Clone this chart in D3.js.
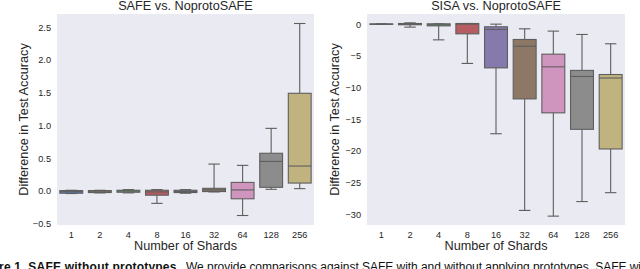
<!DOCTYPE html>
<html><head><meta charset="utf-8">
<script src="https://cdn.jsdelivr.net/npm/d3@7/dist/d3.min.js"></script>
<style>
html,body{margin:0;padding:0;background:#fff;}
svg{display:block;}
text{font-family:"Liberation Sans",Arial,sans-serif;fill:#262626;}
</style></head>
<body>
<svg id="chart" width="640" height="269"></svg>
<script>
// ---- data ----
const categories = ["1","2","4","8","16","32","64","128","256"];

// SAFE vs. NoprotoSAFE
const safeLow  = [-0.04, -0.03, -0.03, -0.19, -0.035, -0.015, -0.375, 0.025, 0.035];
const safeQ1   = [-0.035, -0.025, -0.02, -0.065, -0.025, -0.01, -0.12, 0.055, 0.12];
const safeMed  = [-0.005, -0.005, 0.0, -0.015, -0.01, 0.015, 0.015, 0.45, 0.38];
const safeQ3   = [0.005, 0.005, 0.01, 0.01, 0.01, 0.04, 0.13, 0.575, 1.49];
const safeHigh = [0.01, 0.01, 0.02, 0.02, 0.02, 0.41, 0.39, 0.955, 2.555];

// SISA vs. NoprotoSAFE
const sisaLow  = [-0.05, -0.47, -2.48, -6.2, -17.3, -29.4, -30.3, -28.0, -26.6];
const sisaQ1   = [-0.03, -0.1, -0.27, -1.53, -6.9, -11.8, -14.0, -16.6, -19.7];
const sisaMed  = [0, 0, -0.1, 0, -0.84, -3.48, -6.74, -8.26, -8.5];
const sisaQ3   = [0.03, 0.1, 0.05, 0.1, -0.42, -2.42, -4.74, -7.3, -7.95];
const sisaHigh = [0.05, 0.2, 0.05, 0.1, 0, -0.74, -1.1, -1.63, -3.1];

const safeTicks = [-0.5, 0.0, 0.5, 1.0, 1.5, 2.0, 2.5];
const sisaTicks = [0, -5, -10, -15, -20, -25, -30];

const palette = ["#4C72B0","#DD8452","#55A868","#C44E52","#8172B3","#937860","#DA8BC3","#8C8C8C","#CCB974"];
const colors = palette.map(c => { const h = d3.hsl(c); h.s *= 0.75; return h.formatHex(); });

const svg = d3.select("#chart");
const lineColor = "#5e5e5e";
const minus = s => s.replace(/-/g, "\u2212");
const labelSize = 12.7;

function panel(opts) {
  const {left, right, top, bottom, domain, ticks, fmt, title, lo, q1, med, q3, hi, ylabelX} = opts;
  const g = svg.append("g");
  const x = d3.scaleBand().domain(categories).range([left, right]).padding(0);
  const y = d3.scaleLinear().domain(domain).range([bottom, top]);
  g.append("rect").attr("x", left).attr("y", top).attr("width", right-left).attr("height", bottom-top).attr("fill", "#EAEAF2");

  const yAxis = d3.axisLeft(y).tickValues(ticks).tickFormat(d => minus(fmt(d))).tickSize(0).tickPadding(6);
  const ya = g.append("g").attr("transform", `translate(${left},0)`).call(yAxis);
  ya.select(".domain").remove();
  ya.selectAll("text").attr("font-size", 9.2).attr("fill", "#262626").attr("font-family", "Liberation Sans, Arial, sans-serif");

  const xAxis = d3.axisBottom(x).tickSize(0).tickPadding(6);
  const xa = g.append("g").attr("transform", `translate(0,${bottom})`).call(xAxis);
  xa.select(".domain").remove();
  xa.selectAll("text").attr("font-size", 9.2).attr("fill", "#262626").attr("font-family", "Liberation Sans, Arial, sans-serif");

  const bw = x.bandwidth() * 0.8;
  const cw = bw * 0.5;
  categories.forEach((c, i) => {
    const cx = x(c) + x.bandwidth()/2;
    const bg = g.append("g").attr("stroke", lineColor).attr("stroke-width", 1.1).attr("fill", "none");
    bg.append("line").attr("x1", cx).attr("x2", cx).attr("y1", y(hi[i])).attr("y2", y(q3[i]));
    bg.append("line").attr("x1", cx).attr("x2", cx).attr("y1", y(q1[i])).attr("y2", y(lo[i]));
    bg.append("line").attr("x1", cx-cw/2).attr("x2", cx+cw/2).attr("y1", y(hi[i])).attr("y2", y(hi[i]));
    bg.append("line").attr("x1", cx-cw/2).attr("x2", cx+cw/2).attr("y1", y(lo[i])).attr("y2", y(lo[i]));
    bg.append("rect").attr("x", cx-bw/2).attr("width", bw)
      .attr("y", y(q3[i])).attr("height", Math.max(0.01, y(q1[i]) - y(q3[i])))
      .attr("fill", colors[i]);
    bg.append("line").attr("x1", cx-bw/2).attr("x2", cx+bw/2).attr("y1", y(med[i])).attr("y2", y(med[i]));
  });

  g.append("text").attr("x", (left+right)/2).attr("y", 10).attr("text-anchor", "middle").attr("font-size", labelSize).text(title);
  g.append("text").attr("x", (left+right)/2).attr("y", 250).attr("text-anchor", "middle").attr("font-size", labelSize).text("Number of Shards");
  g.append("text").attr("transform", `translate(${ylabelX},${(top+bottom)/2}) rotate(-90)`).attr("text-anchor", "middle").attr("font-size", labelSize).text("Difference in Test Accuracy");
}

panel({left: 57, right: 314, top: 14, bottom: 225, domain: [-0.52, 2.70], ticks: safeTicks, fmt: d3.format(".1f"),
  title: "SAFE vs. NoprotoSAFE", lo: safeLow, q1: safeQ1, med: safeMed, q3: safeQ3, hi: safeHigh, ylabelX: 27.5});
panel({left: 367, right: 625, top: 14, bottom: 225, domain: [-31.7, 1.6], ticks: sisaTicks, fmt: d3.format("d"),
  title: "SISA vs. NoprotoSAFE", lo: sisaLow, q1: sisaQ1, med: sisaMed, q3: sisaQ3, hi: sisaHigh, ylabelX: 339});

// cropped caption from the source page (cut at the picture's bottom edge, as in the reference)
svg.append("text").attr("x", -1).attr("y", 270.5)
  .attr("font-family", "Liberation Serif, Times New Roman, serif").attr("font-size", 12).attr("font-weight", "bold").style("fill", "#111")
  .attr("textLength", 181).attr("lengthAdjust", "spacing")
  .text("re 1. SAFE without prototypes.");
svg.append("text").attr("x", 186).attr("y", 270.5)
  .attr("font-family", "Liberation Serif, Times New Roman, serif").attr("font-size", 12).style("fill", "#111")
  .attr("textLength", 455).attr("lengthAdjust", "spacing")
  .text("We provide comparisons against SAFE with and without applying prototypes. SAFE wi");
</script>
</body></html>
